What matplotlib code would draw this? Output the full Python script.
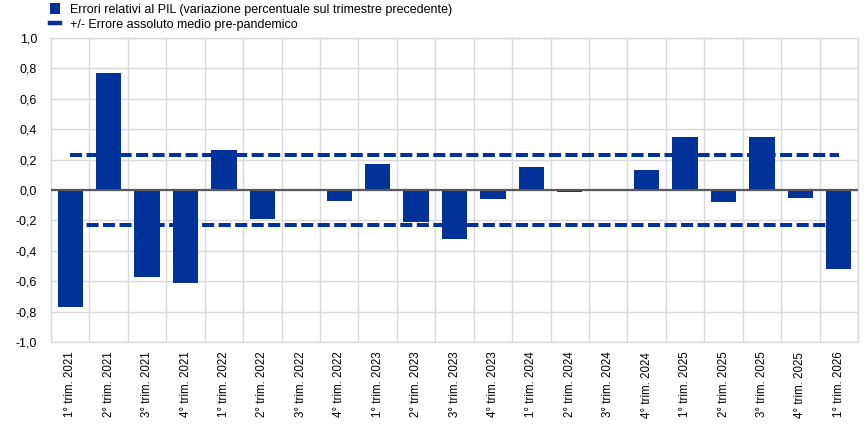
import matplotlib

matplotlib.use("Agg")
import matplotlib.pyplot as plt
import numpy as np
from matplotlib.lines import Line2D
from matplotlib.ticker import FuncFormatter, FixedLocator

plt.rcParams["font.family"] = ["Liberation Sans", "DejaVu Sans"]

quarters = ["1°", "2°", "3°", "4°"]
years = [2021, 2022, 2023, 2024, 2025, 2026]
labels = [f"{q} trim. {y}" for y in years for q in quarters][:21]
errors = [-0.77, 0.77, -0.57, -0.61, 0.26, -0.19, 0.0, -0.07, 0.17, -0.21,
          -0.32, -0.06, 0.15, -0.01, 0.0, 0.13, 0.35, -0.08, 0.35, -0.05, -0.52]
mae = 0.23

BLUE = "#003299"
GRID = "#d9d9d9"

fig = plt.figure(figsize=(8.68, 4.25), dpi=100)
ax = fig.add_axes([0.0588, 0.1953, 0.9297, 0.7153])

x = np.arange(len(labels))
bars = ax.bar(x, errors, 0.66, color=BLUE, zorder=3)
ax.plot([x[0], x[-1]], [mae, mae], color=BLUE, lw=2.9, ls=(0, (3, 1.1)),
        dash_capstyle="butt", zorder=4)
ax.plot([x[0], x[-1]], [-mae, -mae], color=BLUE, lw=2.9, ls=(0, (3, 1.1)),
        dash_capstyle="butt", zorder=2)
ax.axhline(0, color="#595959", lw=1.6, zorder=5)

ax.set_xlim(-0.5, len(labels) - 0.5)
ax.set_ylim(-1.0, 1.0)
ax.set_yticks(np.arange(-1.0, 1.01, 0.2))
ax.yaxis.set_major_formatter(FuncFormatter(lambda v, p: f"{v:.1f}".replace(".", ",").replace("-0,0", "0,0")))
ax.set_xticks(x)
ax.set_xticklabels(labels, rotation=90)
ax.xaxis.set_minor_locator(FixedLocator(np.arange(-0.5, len(labels), 1.0)))
ax.grid(True, axis="y", color=GRID, lw=1.0, zorder=0)
ax.grid(True, axis="x", which="minor", color=GRID, lw=1.0, zorder=0)
ax.tick_params(axis="both", which="both", length=0, colors="#000000")
ax.tick_params(axis="x", pad=7, labelsize=8.3)
ax.tick_params(axis="y", pad=10, labelsize=9)
for s in ax.spines.values():
    s.set_color(GRID)
    s.set_linewidth(1.0)

handles = [bars, Line2D([], [], color=BLUE, lw=3.2)]
fig.legend(handles, ["Errori relativi al PIL (variazione percentuale sul trimestre precedente)",
                     "+/- Errore assoluto medio pre-pandemico"],
           loc="upper left", bbox_to_anchor=(0.049, 1.01), frameon=False,
           fontsize=9, handlelength=0.8, handleheight=0.9, handletextpad=0.8,
           labelspacing=0.2, borderaxespad=0.2)

fig.savefig("out.png", dpi=100)
